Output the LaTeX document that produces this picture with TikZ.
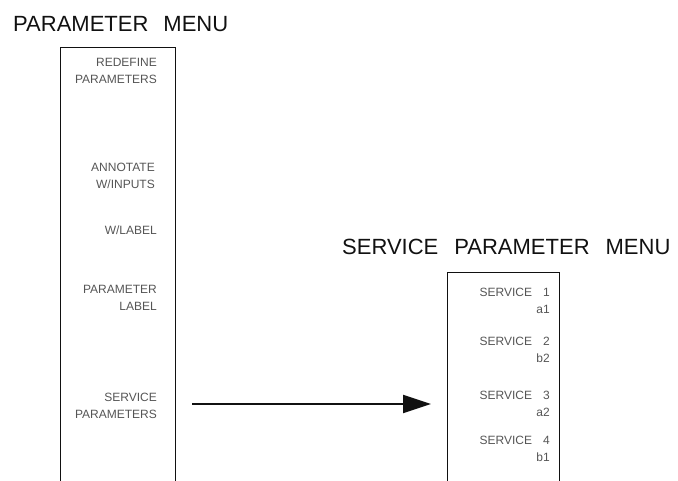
\documentclass[tikz,border=0pt]{standalone}
\usepackage{fontspec}
\setmainfont{Liberation Sans}
\usepackage{xcolor}
\usetikzlibrary{arrows.meta,positioning}
\definecolor{menuink}{HTML}{111111}
\definecolor{itemgray}{HTML}{555555}

\begin{document}
\begin{tikzpicture}[
    x=1pt, y=-1pt,
    menutitle/.style={anchor=base west, inner sep=0pt, font=\fontsize{22}{24}\selectfont, text=menuink},
    menuitem/.style={anchor=east, inner sep=0pt, align=right, font=\fontsize{12}{17.5}\selectfont, text=itemgray},
    menuframe/.style={draw=menuink, line width=0.9pt}
]
\useasboundingbox (0,0) rectangle (678,481);

% Parameter menu
\node[menutitle] (pmtitle) at (13,32) {PARAMETER\hspace{15pt}MENU};
\draw[menuframe] (60,481) -- (60,47) -- (175,47) -- (175,481);

\node[menuitem] (redef)  at (157,71)  {REDEFINE\\PARAMETERS};
\node[menuitem] (annot)  at (155,176) {ANNOTATE\\W/INPUTS};
\node[menuitem] (wlabel) at (157,230) {W/LABEL};
\node[menuitem] (plabel) at (157,298) {PARAMETER\\LABEL};
\node[menuitem] (svcpar) at (157,406) {SERVICE\\PARAMETERS};

% Service parameter menu
\node[menutitle] (sptitle) at (342,255) {SERVICE\hspace{16pt}PARAMETER\hspace{16pt}MENU};
\draw[menuframe] (447,481) -- (447,272) -- (559,272) -- (559,481);

\node[menuitem] (svc1) at (550,301) {SERVICE\hspace{11pt}1\\a1};
\node[menuitem] (svc2) at (550,350) {SERVICE\hspace{11pt}2\\b2};
\node[menuitem] (svc3) at (550,404) {SERVICE\hspace{11pt}3\\a2};
\node[menuitem] (svc4) at (550,449) {SERVICE\hspace{11pt}4\\b1};

% Link
\coordinate (linkstart) at (192,404);
\coordinate (linkend) at (431,404);
\draw[-{Triangle[length=28pt, width=18pt]}, line width=2pt, menuink] (linkstart) -- (linkend);

\end{tikzpicture}
\end{document}
